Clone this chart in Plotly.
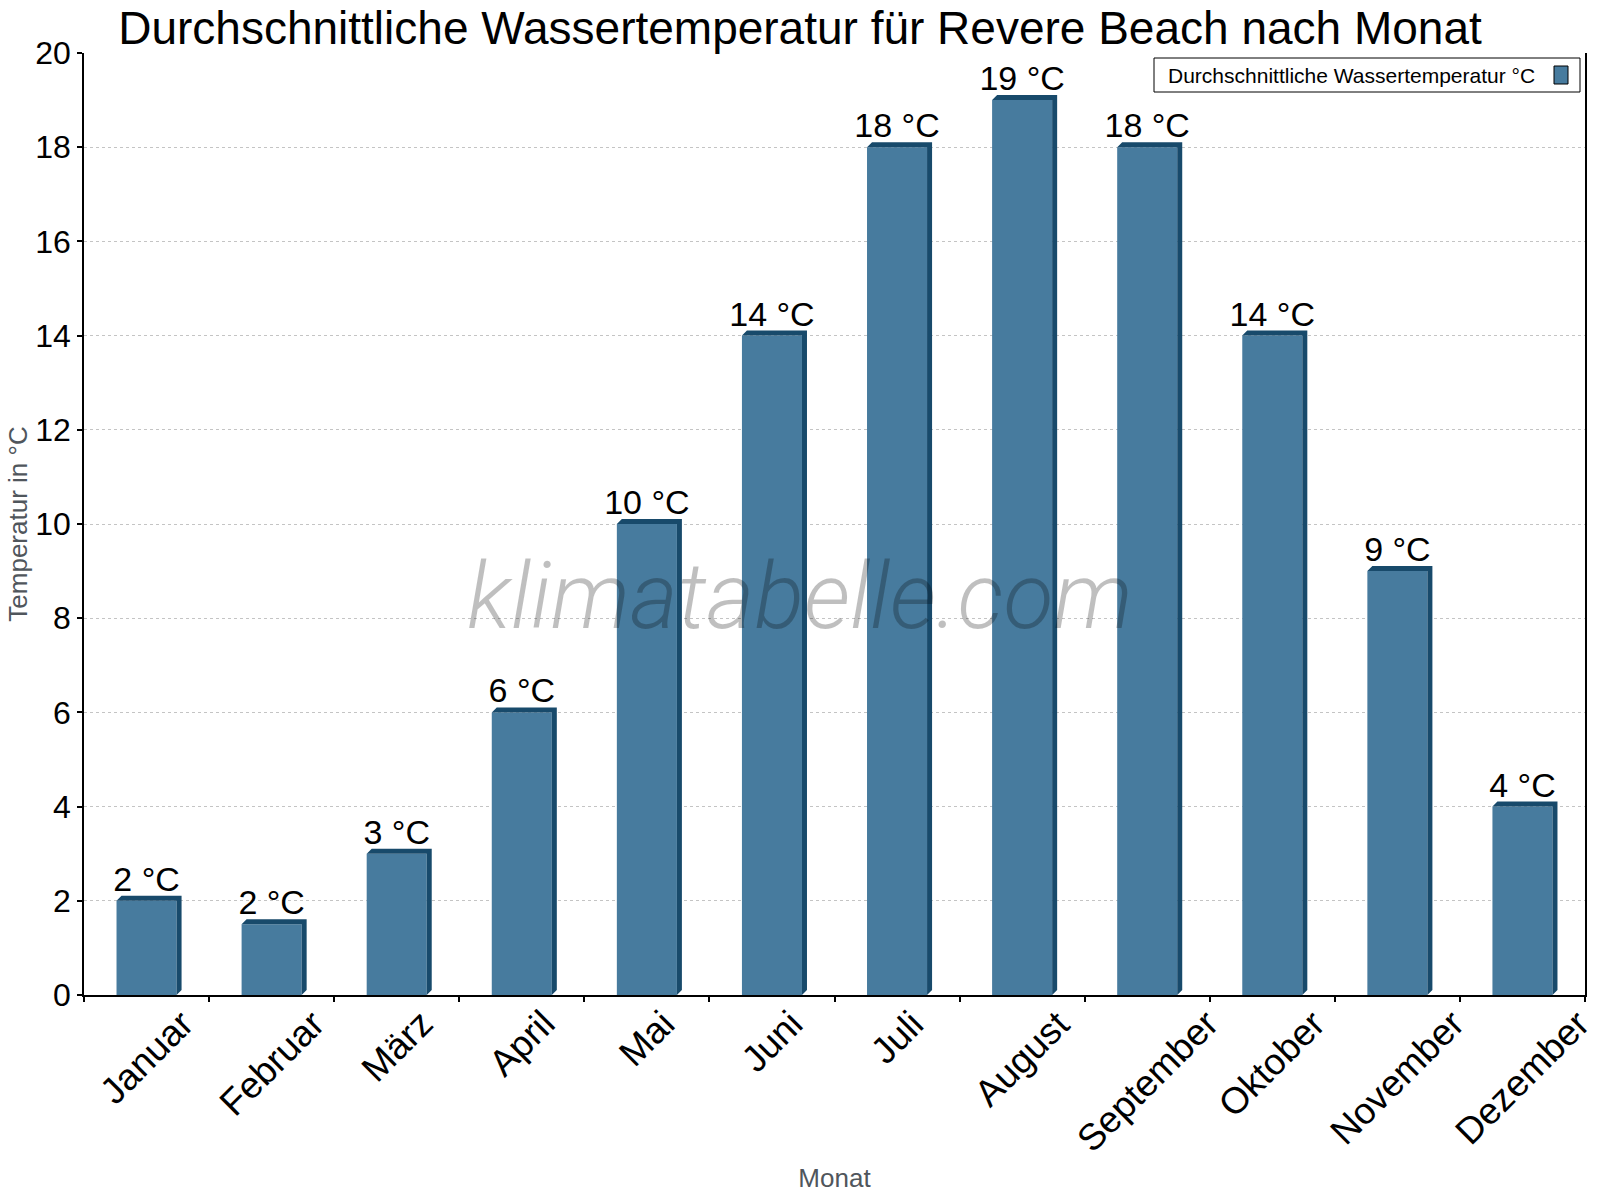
import plotly.graph_objects as go

# ---------------- data ----------------
months = ["Januar", "Februar", "März", "April", "Mai", "Juni", "Juli",
          "August", "September", "Oktober", "November", "Dezember"]
water_temp = [2, 1.5, 3, 6, 10, 14, 18, 19, 18, 14, 9, 4]
value_labels = ["2 °C", "2 °C", "3 °C", "6 °C", "10 °C", "14 °C", "18 °C",
                "19 °C", "18 °C", "14 °C", "9 °C", "4 °C"]
y_ticks = [0, 2, 4, 6, 8, 10, 12, 14, 16, 18, 20]
series_name = "Durchschnittliche Wassertemperatur °C"
title_text = "Durchschnittliche Wassertemperatur für Revere Beach nach Monat"

# ---------------- style ----------------
FRONT = "#477b9e"
DARK = "#184a6b"
BAR_W = 0.48
DX = 0.04
DY = 0.106
W, H = 1600, 1200
ML, MR, MT, MB = 84, 15, 53, 205
FONT = "Arial, Liberation Sans, sans-serif"

def px2x(p):
    return (p - ML) / (W - ML - MR)

def py2y(p):
    return (H - MB - p) / (H - MT - MB)

x_idx = list(range(len(months)))

# depth faces (top + right side) computed from the data
fx, fy = [], []
for i, v in zip(x_idx, water_temp):
    l = i - BAR_W / 2
    r = i + BAR_W / 2
    fx += [l, l + DX, r + DX, r + DX, r, r, l, None]
    fy += [v, v + DY, v + DY, DY, 0, v, v, None]

fig = go.Figure()
fig.add_trace(go.Bar(
    x=x_idx, y=water_temp, width=BAR_W, name=series_name,
    marker=dict(color=FRONT, line=dict(width=0)),
    text=value_labels, textposition="outside", constraintext="none",
    textfont=dict(size=34, color="black", family=FONT),
    cliponaxis=False, showlegend=False, hoverinfo="x+y",
))
fig.add_trace(go.Scatter(
    x=fx, y=fy, mode="lines", fill="toself", fillcolor=DARK,
    line=dict(width=0, color=DARK), hoverinfo="skip", showlegend=False,
))

annotations = []
for i, m in zip(x_idx, months):
    annotations.append(dict(
        x=i, xref="x", y=0, yref="paper", yanchor="top", xanchor="center",
        text=m, textangle=-45, showarrow=False, yshift=-5,
        font=dict(size=37, color="black", family=FONT),
    ))

# watermark
annotations.append(dict(
    x=px2x(800), y=py2y(596), xref="paper", yref="paper",
    xanchor="center", yanchor="middle", showarrow=False,
    text="klimatabelle.com",
    font=dict(family="Roboto", size=92, weight=300, style="italic",
              color="rgba(0,0,0,0.25)"),
))

# legend text
annotations.append(dict(
    x=px2x(1166), y=py2y(75), xref="paper", yref="paper",
    xanchor="left", yanchor="middle", showarrow=False,
    text=series_name, font=dict(size=21, color="black", family=FONT),
))

shapes = [
    dict(type="rect", xref="paper", yref="paper",
         x0=px2x(1154), x1=px2x(1580), y0=py2y(92), y1=py2y(58),
         line=dict(color="black", width=1), fillcolor="white", layer="above"),
    dict(type="rect", xref="paper", yref="paper",
         x0=px2x(1554), x1=px2x(1568), y0=py2y(84), y1=py2y(66),
         line=dict(color="black", width=1), fillcolor=FRONT, layer="above"),
]

fig.update_layout(
    width=W, height=H,
    margin=dict(l=ML, r=MR, t=MT, b=MB, autoexpand=False),
    plot_bgcolor="white", paper_bgcolor="white",
    font=dict(family=FONT, color="black"),
    title=dict(text=title_text, x=0.5, xanchor="center", xref="container",
               y=1 - 27.5 / H, yref="container", yanchor="middle",
               font=dict(size=46, color="black", family=FONT)),
    showlegend=False,
    barmode="overlay",
    annotations=annotations,
    shapes=shapes,
)

fig.update_xaxes(
    range=[-0.5, len(months) - 0.5],
    tickvals=[k - 0.5 for k in range(len(months) + 1)],
    showticklabels=False, ticks="outside", ticklen=5, tickcolor="black",
    tickwidth=1.5, showline=True, linecolor="black", linewidth=1.5,
    showgrid=False, zeroline=False, automargin=False,
    title=dict(text="Monat", standoff=168,
               font=dict(size=26, color="#50565c", family=FONT)),
)
fig.update_yaxes(
    range=[0, 20], tickvals=y_ticks, ticks="outside", ticklen=5,
    tickcolor="black", tickwidth=1.5,
    showline=True, linecolor="black", linewidth=1.5, mirror=True,
    showgrid=True, gridcolor="#c4c4c4", griddash="dot", gridwidth=1,
    zeroline=False, automargin=False,
    tickfont=dict(size=32, color="black", family=FONT),
    title=dict(text="Temperatur in °C", standoff=0,
               font=dict(size=26, color="#50565c", family=FONT)),
)

fig.write_html(
    "out.html",
    config={"displayModeBar": False},
    post_script="document.body.style.margin='0';document.body.style.overflow='hidden';",
)
